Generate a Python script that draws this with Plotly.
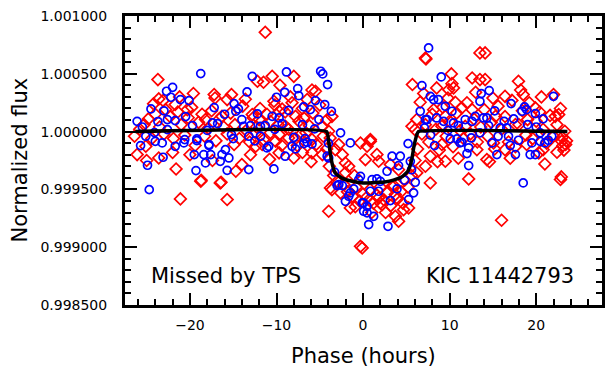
import numpy as np
import plotly.graph_objects as go

# ---- data (phase in hours, flux offset in ppm relative to 1.0) ----
blue_phase = [
    -18.75, -22.0, -22.7, -22.2, -21.1, -20.1, -24.5, -17.2, -26.1, -23.7, -22.6, -21.7, -19.7, -17.4, -16.8,
    -14.9, -14.4, -14.7, -14.0, -25.7, -24.1, -24.0, -23.2, -23.1, -24.9, -24.7, -21.7, -20.7, -19.5, -19.3,
    -18.2, -18.4, -17.6, -17.8, -19.2, -16.3, -15.9, -15.5, -15.7, -16.5, -20.6, -19.2, -17.8, -15.2, -13.8,
    -25.1, -22.6,
    -8.85, -4.9, -4.66, -4.1, -7.55, -7.43, -9.05, -10.0, -12.8, -13.4, -5.5, -6.85, -6.1, -4.43, -3.66,
    -8.6, -12.2, -10.5, -9.7, -9.35, -5.1, -11.85, -11.3, -13.0, -5.6, -2.6, -1.47, -6.7, -6.46, -8.2,
    -10.9, -13.2, -11.85, -11.1, -13.2, -10.3, -9.0, -7.8, -6.85, -5.9, -4.15, -2.8, -2.4, -1.47, -1.66,
    -2.04, -1.08, -0.3, -0.5, 0.07, 0.07, -3.0, -0.1, -3.97,
    7.57, 9.03, 6.8, 7.77, 8.15, 8.7, 9.5, 10.27, 6.6, 7.4, 8.5, 9.3, 10.45, 11.0, 11.8, 12.6, 12.96,
    13.5, 13.65, 13.9, 7.1, 5.2, 8.26, 10.07, 10.85, 11.4, 12.5, 13.5, 3.35, 4.3, 4.1, 5.46, 2.77, 1.6,
    2.0, 1.04, 0.84, 1.8, 3.92, 6.03, 5.84, 5.26, 3.15, 0.46, 1.22, 0.65, 2.88, 12.0, 12.2, 11.2, 0.46,
    7.2,
    14.57, 17.1, 18.65, 18.9, 18.35, 19.9, 20.8, 22.0, 17.4, 16.3, 14.3, 14.5, 15.85, 16.6, 20.46, 15.6,
    16.8, 17.95, 19.5, 20.46, 21.0, 21.4, 14.9, 15.46, 17.6, 19.3, 19.9, 18.5,
    -25.5, -23.0, -20.5, -18.0, -16.0, -15.0, -12.5, -10.2, -8.0, -7.0, -4.0, 7.8, 9.8, 12.2, 15.2, 17.0,
    19.0, 21.8, 20.0, -3.3, 4.8, 5.6,
]
blue_ppm = [
    502, 383, 349, 297, 277, 268, 196, 208, 89, 87, 104, 95, 52, 75, 69,
    242, 196, 176, 104, -121, -9, -84, -98, -222, -291, -502, -127, -98, -199, -337,
    -271, -199, -199, -121, -78, -199, -156, -228, -335, -257, -69, -63, -112, -26, 46,
    -40, 17,
    516, 522, 499, 407, 372, 311, 340, 297, 478, 343, 268, 214, 190, 234, 176,
    184, 153, 132, 118, 69, 104, 46, 52, 52, 23, -11, -98, -61, -92, -127,
    -127, -40, -40, -141, -329, -323, -213, -150, -104, -107, -213, -458, -467, -530, -559,
    -603, -496, -387, -415, -617, -689, -467, -617, -228,
    724, 473, 398, 305, 277, 277, 219, 176, 176, 104, 118, 89, 75, 52, 104, 89, 132,
    262, 329, 118, 32, -104, -121, -63, -63, -92, -55, -11, -213, -213, -294, -257, -343, -409,
    -430, -415, -516, -516, -496, -438, -530, -588, -597, -646, -733, -804, -819, -190, -294, -98, -703,
    104,
    355, 242, 214, 190, 176, 156, 110, 305, 110, 89, 118, 52, 32, 32, -11, -40,
    -40, -75, -98, -84, -98, -75, -98, -199, -199, -199, -199, -444,
    40, 180, 130, 10, 150, -60, -80, 20, -50, 60, -100, -30, 10, -140, 180, -120,
    60, -40, 40, -350, -420, -330,
]

red_phase = [
    -23.7, -23.6, -23.1, -21.7, -20.3, -17.2, -17.1, -15.7, -16.3, -18.2, -26.1, -23.6, -21.6, -18.7, -16.4,
    -21.1, -15.7, -25.1, -14.7, -14.9, -14.0, -18.75, -16.5,
    -11.3, -10.5, -8.0, -11.5, -12.2, -5.5, -6.46, -8.4, -10.3, -9.35, -9.7, -7.8, -6.85, -3.6, -4.7, -3.97,
    -8.97, -12.8, -12.0, -10.7, -12.4, -9.7, -8.6, -7.2, -5.9, -3.8, -10.1, -11.65, -7.6, -2.8, -0.3, -12.4,
    -9.7, -8.0, -5.9, -4.7, -3.2, -2.4, -2.04, -1.66, -3.77, -3.97, -1.47, -0.3, -0.1, -2.04, -3.6, -2.6, -1.0,
    13.5, 7.27, 10.2, 12.6, 13.5, 5.7, 8.5, 10.27, 10.45, 9.9, 6.6, 10.65, 8.15, 11.4, 6.2, 9.5, 12.6, 5.65,
    6.0, 9.1, 11.8, 0.84, 0.27, 1.8, 3.15, 4.1, 6.2, 7.2, 7.77, 9.5, 7.77, 12.2, 3.35, 3.73, 5.26, 4.68, 4.1,
    3.73, 2.2, 1.8, 0.84, 0.46, 1.6, 9.1, 13.15, 16.0, 22.8, 2.0, 7.2, 0.84,
    14.1, 17.95, 16.4, 18.5, 22.0, 19.9, 22.2, 22.6, 15.3, 19.0, 17.6, 23.3, 22.95, 15.07, 18.9, 14.1, 22.9,
    22.4, 23.1, 23.4, 20.8, 20.3, 16.4, 14.3,
    -26.4, -25.8, -25.3, -24.8, -24.4, -24.0, -23.5, -23.0, -22.8, -22.3, -21.9, -21.4, -21.0, -20.6, -20.2,
    -19.8, -19.4, -19.0, -18.6, -18.3, -17.9, -17.5, -17.0, -16.6, -16.1, -15.7, -15.3, -14.8, -14.3, -13.9,
    -13.5, -13.1, -12.7, -12.3, -11.9, -11.5, -11.1, -10.7, -10.2, -9.8, -9.4, -9.0, -8.6, -8.2, -7.8, -7.4,
    -7.0, -6.6, -6.2, -5.8, -5.4, -5.0, -4.6, -4.2, -25.0, -22.0, -20.0, -17.4, -13.0, -10.8, -7.0, -6.0,
    -24.2, -21.2, -19.6, -15.2, -13.6, -9.6, -5.9,
    6.8, 7.2, 7.6, 8.0, 8.4, 8.8, 9.2, 9.6, 10.0, 10.4, 10.8, 11.2, 11.6, 12.0, 12.4, 12.8, 13.2, 13.6,
    14.0, 14.4, 14.8, 15.2, 15.6, 16.0, 16.4, 16.8, 17.2, 17.6, 18.0, 18.4, 18.8, 19.2, 19.6, 20.0, 20.4,
    20.8, 21.2, 21.6, 22.0, 22.4, 22.8, 23.2, 23.5, 7.0, 9.8, 13.0, 15.0, 18.2, 20.6, 8.6, 11.0, 14.6,
    17.0, 21.0, 23.0,
    -3.4, -3.0, -2.2, -1.8, -1.2, -0.8, -0.4, 0.0, 0.4, 0.8, 1.2, 1.6, 2.0, 2.4, 2.8, 3.2, 3.6, 4.0, 4.4,
    4.8, 5.2, 5.6, 6.0, 6.3, -3.9, -4.2, 1.0, 2.6, 4.6, -0.9,
]
red_ppm = [
    450, 283, 268, 234, 190, 320, 291, 277, 132, 104, -199, -228, -323, -421, -438,
    -582, -588, -127, -343, -112, -285, -430, -444,
    859, 478, 478, 427, 435, 349, 277, 300, 262, 196, 176, 132, 118, 132, 46, 3,
    46, 147, 104, 89, -11, -26, -55, -26, -69, -55, -84, -112, -121, -112, -98, -127,
    -184, -228, -184, -199, -156, -199, -271, -300, -487, -689, -660, -992, -1006, -357, -502, -530, -380,
    681, 629, 499, 464, 450, 407, 378, 415, 378, 363, 254, 254, 190, 205, 104, 132, 190, 46,
    17, 46, 46, -69, -242, -257, -285, -329, -357, -300, -213, -257, -444, -409, -473, -545, -660, -675, -776,
    -733, -632, -574, -603, -127, -199, -112, -156, -767, -415, -617, 637, -84,
    681, 435, 305, 320, 320, 205, 132, 147, 132, 104, 61, 3, -84, -98, -112, 450, -392,
    -179, -121, -112, -156, -184, -156, -242,
    -40, 20, 60, 110, -60, 150, 40, -20, 190, 130, -60, 170, 60, -30, 120,
    210, -120, 80, 150, -40, 30, 180, -80, 110, 40, -20, 160, 60, -60, 220,
    10, -90, 120, 40, 200, -70, 150, -10, 230, 60, -120, 170, 20, 250, -60, 90,
    200, -10, 50, 160, -110, 230, -40, 100, -250, -180, -200, -250, -200, -240, -180, -260,
    240, 300, 330, 320, 280, 400, 360,
    -20, 60, -90, 150, 20, -160, 210, -40, 90, -130, 160, 10, -60, 250, -20, 110, -90, 40,
    190, -40, 80, -150, 220, 20, 130, -90, 270, -130, 60, 180, -30, 250, -60, 90, 170,
    20, -100, 140, -40, 60, 200, -160, -80, 330, 290, 340, 290, 360, 300, -260, -230, -260,
    -230, -280, -50,
    -380, -430, -460, -520, -560, -480, -600, -540, -570, -500, -620, -550, -480, -590, -530, -640, -470, -580, -520,
    -420, -480, -380, -250, -150, -300, -150, -700, -700, -620, -650,
]

model_phase = [-26.3, -4.2, -4.0, -3.8, -3.5, -3.2, -2.5, -1.5, -0.5, 0.5, 1.5, 2.5, 3.5, 4.5, 5.2, 5.6,
               5.9, 6.2, 6.4, 23.6]
model_flux = [1.0, 1.0, 0.99993, 0.99982, 0.99970, 0.99964, 0.99960, 0.999575, 0.99956, 0.999555,
              0.99956, 0.999565, 0.99958, 0.99961, 0.99966, 0.99975, 0.99988, 0.99997, 1.0, 1.0]

y_ticks = [0.9985, 0.9990, 0.9995, 1.0000, 1.0005, 1.0010]
x_ticks = [-20, -10, 0, 10, 20]
x_ticktext = ["\u221220", "\u221210", "0", "10", "20"]

blue_flux = 1.0 + np.array(blue_ppm) * 1e-6
red_flux = 1.0 + np.array(red_ppm) * 1e-6

FONT = "DejaVu Sans"

fig = go.Figure()
fig.add_trace(go.Scatter(
    x=red_phase, y=red_flux, mode="markers",
    marker=dict(symbol="diamond-open", size=9, color="#ff0000", line=dict(width=1.7, color="#ff0000")),
    showlegend=False))
fig.add_trace(go.Scatter(
    x=blue_phase, y=blue_flux, mode="markers",
    marker=dict(symbol="circle-open", size=8, color="#0000ff", line=dict(width=1.7, color="#0000ff")),
    showlegend=False))
fig.add_trace(go.Scatter(
    x=model_phase, y=model_flux, mode="lines",
    line=dict(color="black", width=3.5, shape="spline", smoothing=0.4),
    showlegend=False))

# the page body adds an 8 px offset, so the figure is 8 px smaller and margins shifted
fig.update_layout(
    width=608, height=367,
    margin=dict(l=117, r=14, t=8, b=70, autoexpand=False),
    paper_bgcolor="white", plot_bgcolor="white",
    font=dict(family=FONT, color="black", size=14),
    xaxis=dict(
        range=[-27.5, 27.6], tickvals=x_ticks, ticktext=x_ticktext, automargin=False,
        showgrid=False, zeroline=False, showline=True, linewidth=3, linecolor="black", mirror="ticks",
        ticks="inside", ticklen=12, tickwidth=1.5, tickcolor="black", ticklabelstandoff=5,
        ticklabeloverflow="allow",
        minor=dict(dtick=2, ticks="inside", ticklen=6, tickwidth=1.5, tickcolor="black"),
        tickfont=dict(size=14, family=FONT),
    ),
    yaxis=dict(
        range=[0.9985, 1.0010], tickvals=y_ticks, tickformat=".6f", automargin=False,
        showgrid=False, zeroline=False, showline=True, linewidth=3, linecolor="black", mirror="ticks",
        ticks="inside", ticklen=12, tickwidth=1.5, tickcolor="black", ticklabelstandoff=12,
        ticklabeloverflow="allow",
        minor=dict(dtick=0.0001, tick0=0.9985, ticks="inside", ticklen=6, tickwidth=1.5, tickcolor="black"),
        tickfont=dict(size=14, family=FONT),
    ),
    annotations=[
        dict(text="Phase (hours)", xref="paper", yref="paper", x=0.499, y=-0.1765,
             xanchor="center", yanchor="middle", showarrow=False, font=dict(size=21, family=FONT)),
        dict(text="Normalized flux", xref="paper", yref="paper", x=-0.2222, y=0.5, textangle=-90,
             xanchor="center", yanchor="middle", showarrow=False, font=dict(size=21, family=FONT)),
        dict(text="Missed by TPS", xref="paper", yref="paper", x=0.05, y=0.10,
             xanchor="left", yanchor="middle", showarrow=False, font=dict(size=21, family=FONT)),
        dict(text="KIC 11442793", xref="paper", yref="paper", x=0.945, y=0.10,
             xanchor="right", yanchor="middle", showarrow=False, font=dict(size=21, family=FONT)),
        dict(text="(", xref="paper", yref="paper", x=1.0085, y=0.329, xanchor="left", yanchor="middle",
             showarrow=False, font=dict(size=14, family=FONT, color="#222")),
        dict(text="(", xref="paper", yref="paper", x=1.0085, y=0.167, xanchor="left", yanchor="middle",
             showarrow=False, font=dict(size=14, family=FONT, color="#222")),
        dict(text="(", xref="paper", yref="paper", x=1.0085, y=0.015, xanchor="left", yanchor="middle",
             showarrow=False, font=dict(size=14, family=FONT, color="#222")),
    ],
)

fig.write_html("out.html")
